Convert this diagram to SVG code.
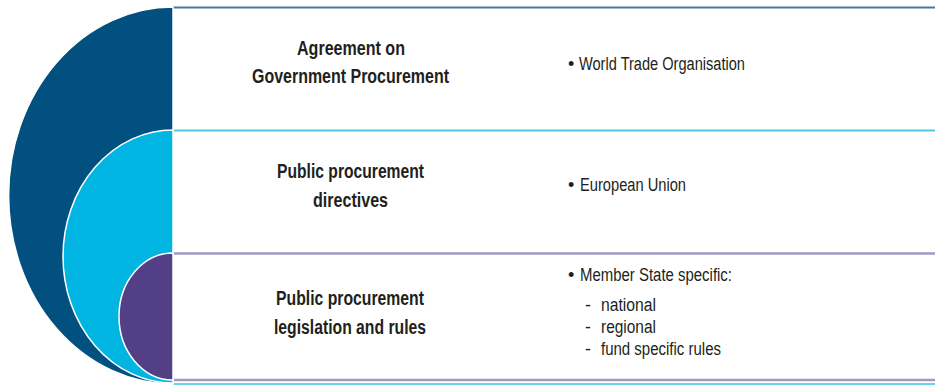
<svg xmlns="http://www.w3.org/2000/svg" width="935" height="386" viewBox="0 0 935 386">
<style>
.t{font-family:"Liberation Sans",Arial,sans-serif;fill:#231F20}
.h{font-weight:bold;font-size:20px}
.r{font-size:18px}
.arc{stroke:#ffffff;stroke-width:1.5}
</style>
<rect width="935" height="386" fill="#ffffff"/>
<g id="lines">
<line x1="173" y1="7.5" x2="935" y2="7.5" stroke="#4d7896" stroke-width="2.2"/>
<line x1="173" y1="130.5" x2="935" y2="130.5" stroke="#52c6ea" stroke-width="2.2"/>
<line x1="173" y1="253.5" x2="935" y2="253.5" stroke="#a397c6" stroke-width="2.6"/>
<line x1="173" y1="380" x2="935" y2="380" stroke="#a397c6" stroke-width="2.6"/>
<line x1="173" y1="384" x2="935" y2="384" stroke="#6ad0ee" stroke-width="2.2"/>
</g>
<g id="shape-wto">
<path class="arc" d="M173,7 A164,188 0 0 0 173,384 Z" fill="#02507f"/>
</g>
<g id="shape-eu">
<path class="arc" d="M173,130 A110,126.5 0 0 0 173,383 Z" fill="#00b5e2"/>
</g>
<g id="shape-ms">
<path class="arc" d="M173,253 A54,63.5 0 0 0 173,380 Z" fill="#523f85"/>
</g>
<g id="row1">
<text class="t h" x="297" y="55" textLength="108" lengthAdjust="spacingAndGlyphs">Agreement on</text>
<text class="t h" x="252" y="83" textLength="197" lengthAdjust="spacingAndGlyphs">Government Procurement</text>
<text class="t r" x="568" y="70">•</text>
<text class="t r" x="579" y="70" textLength="166" lengthAdjust="spacingAndGlyphs">World Trade Organisation</text>
</g>
<g id="row2">
<text class="t h" x="277" y="178" textLength="147" lengthAdjust="spacingAndGlyphs">Public procurement</text>
<text class="t h" x="313" y="207" textLength="75" lengthAdjust="spacingAndGlyphs">directives</text>
<text class="t r" x="568" y="191">•</text>
<text class="t r" x="580" y="191" textLength="106" lengthAdjust="spacingAndGlyphs">European Union</text>
</g>
<g id="row3">
<text class="t h" x="276" y="305" textLength="148" lengthAdjust="spacingAndGlyphs">Public procurement</text>
<text class="t h" x="274" y="334" textLength="152" lengthAdjust="spacingAndGlyphs">legislation and rules</text>
<text class="t r" x="568" y="281">•</text>
<text class="t r" x="580" y="281" textLength="152" lengthAdjust="spacingAndGlyphs">Member State specific:</text>
<text class="t r" x="585" y="311">-</text>
<text class="t r" x="601" y="311" textLength="55" lengthAdjust="spacingAndGlyphs">national</text>
<text class="t r" x="585" y="333">-</text>
<text class="t r" x="601" y="333" textLength="55" lengthAdjust="spacingAndGlyphs">regional</text>
<text class="t r" x="585" y="355">-</text>
<text class="t r" x="601" y="355" textLength="120" lengthAdjust="spacingAndGlyphs">fund specific rules</text>
</g>
</svg>
